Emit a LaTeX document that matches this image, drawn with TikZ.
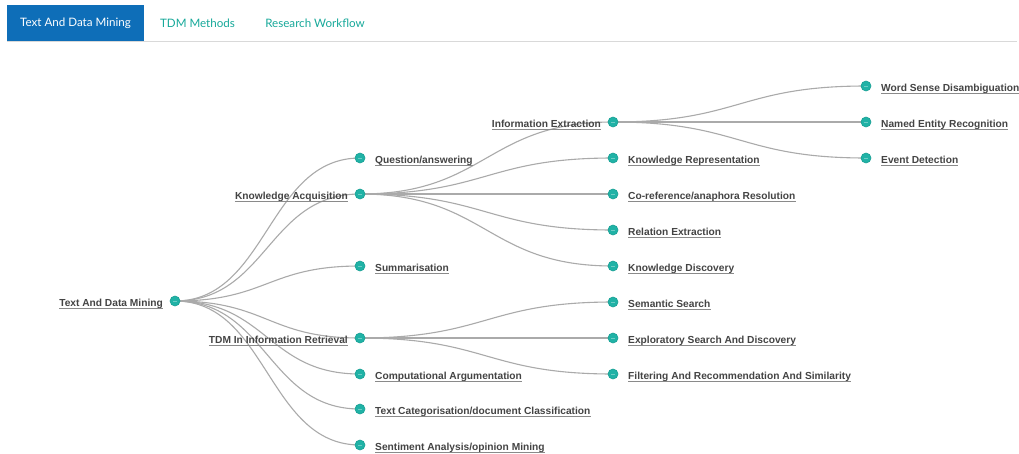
\documentclass[tikz,border=0pt]{standalone}
\usepackage{fontspec}
\usetikzlibrary{calc}
\setmainfont{Liberation Sans}
\newfontfamily\tabfont{Lato}
\definecolor{tabblue}{HTML}{0E6EB8}
\definecolor{tabteal}{HTML}{17A99A}
\definecolor{nodeteal}{HTML}{20B2A6}
\definecolor{nodeedge}{HTML}{18A094}
\definecolor{linkgray}{HTML}{AAAAAA}
\definecolor{labelgray}{HTML}{444444}
\definecolor{ulgray}{HTML}{8A8A8A}
\begin{document}
\begin{tikzpicture}[x=1pt,y=-1pt,
  dot/.style={circle,fill=nodeteal,draw=nodeedge,line width=0.6pt,minimum size=10pt,inner sep=0pt},
  lbl/.style={font=\fontsize{10.2}{12}\selectfont\bfseries,text=labelgray,inner sep=0pt},
  uline/.style={draw=ulgray,line width=1pt},
  tabtxt/.style={font=\tabfont\fontsize{11.6}{14}\selectfont,inner sep=0pt},
  link/.style={draw=linkgray,line width=1.1pt}]
\useasboundingbox (0,0) rectangle (1019,453);
\fill[white] (0,0) rectangle (1019,453);
% tabs
\fill[tabblue] (7,5) rectangle (144,41);
\draw[color=black!15,line width=1pt] (7,41.5) -- (1017,41.5);
\node[tabtxt,text=white] (t1) at (75.5,23) {Text And Data Mining};
\node[tabtxt,text=tabteal] (t2) at (197.5,23) {TDM Methods};
\node[tabtxt,text=tabteal] (t3) at (315,23) {Research Workflow};
% nodes
\coordinate (root) at (175,301);
\coordinate (qa) at (360,158);
\coordinate (ka) at (360,194);
\coordinate (sum) at (360,266);
\coordinate (ir) at (360,338);
\coordinate (ca) at (360,374);
\coordinate (tc) at (360,409);
\coordinate (sa) at (360,445);
\coordinate (ie) at (613,122);
\coordinate (kr) at (613,158);
\coordinate (cr) at (613,194);
\coordinate (re) at (613,230);
\coordinate (kd) at (613,266);
\coordinate (ss) at (613,302);
\coordinate (es) at (613,338);
\coordinate (fr) at (613,374);
\coordinate (ws) at (866,86);
\coordinate (ne) at (866,122);
\coordinate (ed) at (866,158);
% links
\foreach \a/\b in {root/qa,root/ka,root/sum,root/ir,root/ca,root/tc,root/sa,
  ka/ie,ka/kr,ka/cr,ka/re,ka/kd,ir/ss,ir/es,ir/fr,ie/ws,ie/ne,ie/ed}{
  \path[link] let \p1=(\a), \p2=(\b) in
    (\p1) .. controls ({0.5*\x1+0.5*\x2},\y1) and ({0.5*\x1+0.5*\x2},\y2) .. (\p2);
}
\foreach \c in {root,qa,ka,sum,ir,ca,tc,sa,ie,kr,cr,re,kd,ss,es,fr,ws,ne,ed}{
  \node[dot] (d-\c) at (\c) {};
  \fill[white,opacity=0.35] ($(\c)+(-2,0)$) rectangle ($(\c)+(2,0.6)$);
}
% labels left
\foreach \c/\t in {root/Text And Data Mining,ka/Knowledge Acquisition,
  ir/TDM In Information Retrieval,ie/Information Extraction}{
  \node[lbl,anchor=base east] (l-\c) at ($(\c)+(-12,5.5)$) {\t};
  \path[uline] ([yshift=-1.8pt]l-\c.base west) -- ([yshift=-1.8pt]l-\c.base east);
}
% labels right
\foreach \c/\t in {qa/Question\slash answering,sum/Summarisation,ca/Computational Argumentation,
  tc/Text Categorisation\slash document Classification,sa/Sentiment Analysis\slash opinion Mining,
  kr/Knowledge Representation,cr/Co-reference\slash anaphora Resolution,re/Relation Extraction,
  kd/Knowledge Discovery,ss/Semantic Search,es/Exploratory Search And Discovery,
  fr/Filtering And Recommendation And Similarity,ws/Word Sense Disambiguation,
  ne/Named Entity Recognition,ed/Event Detection}{
  \node[lbl,anchor=base west] (l-\c) at ($(\c)+(15,5.5)$) {\t};
  \path[uline] ([yshift=-1.8pt]l-\c.base west) -- ([yshift=-1.8pt]l-\c.base east);
}
\end{tikzpicture}
\end{document}
